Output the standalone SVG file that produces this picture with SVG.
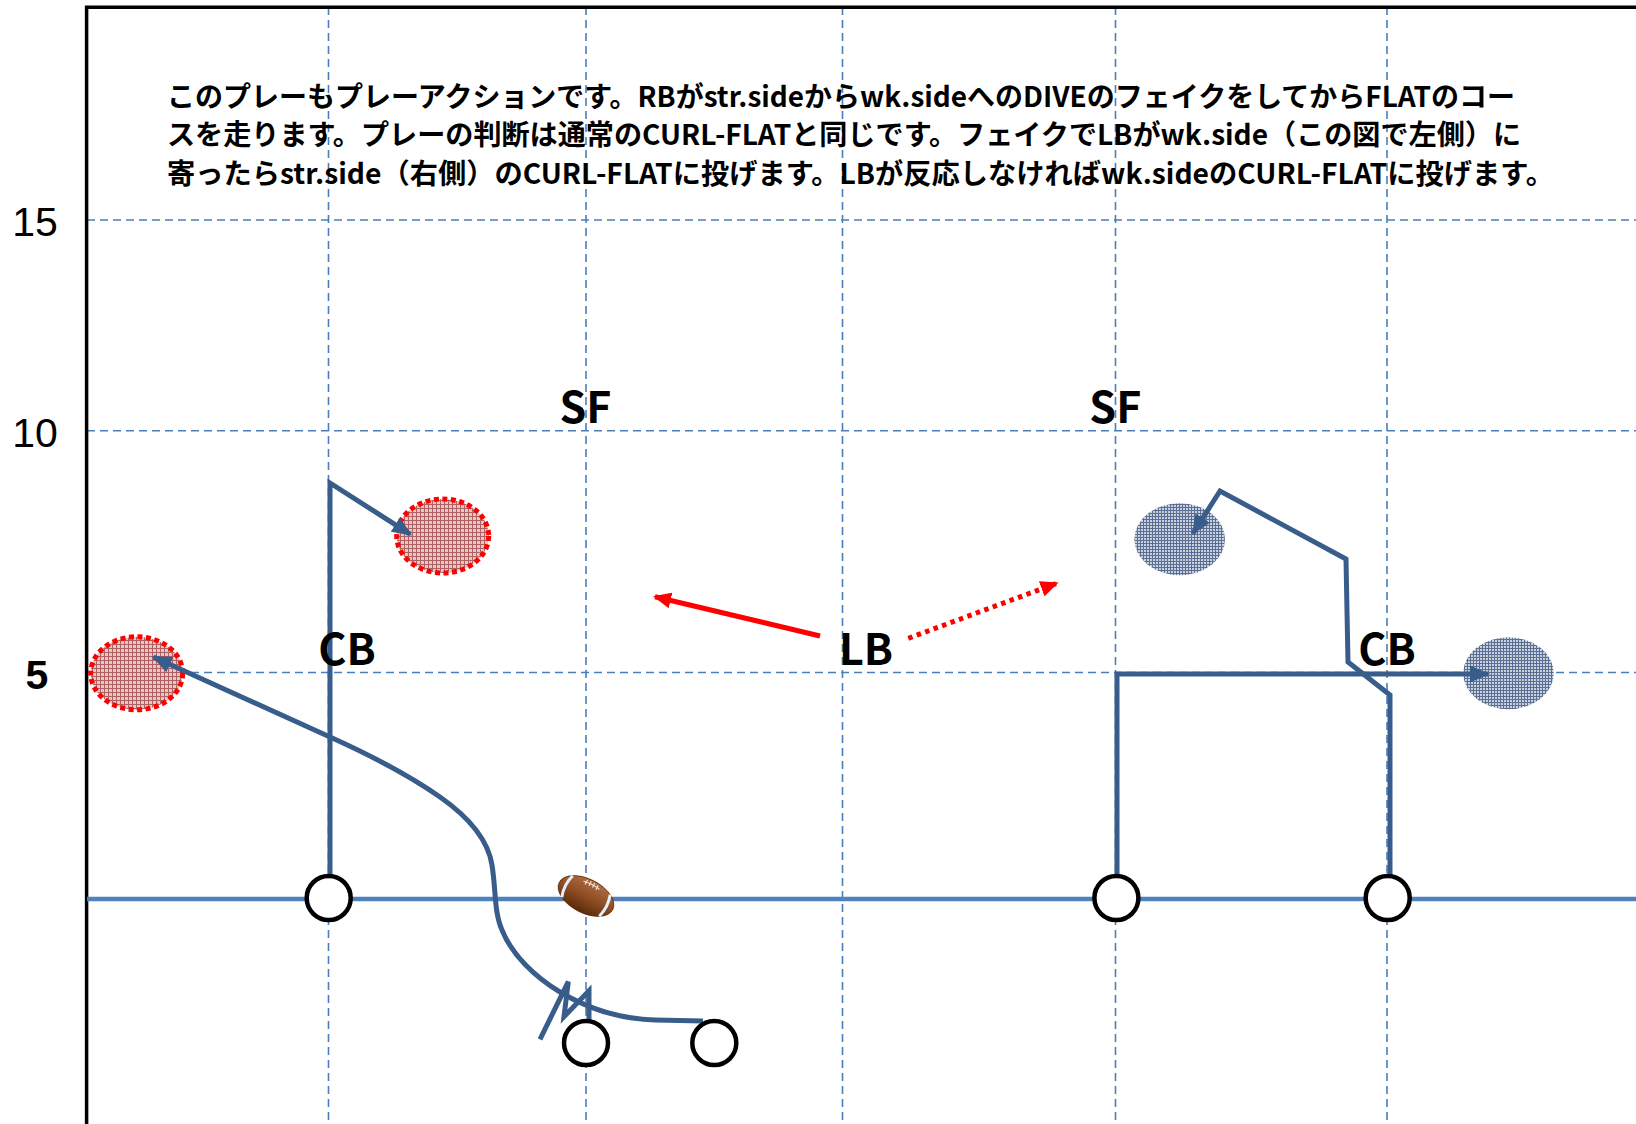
<svg xmlns="http://www.w3.org/2000/svg" width="1636" height="1124" viewBox="0 0 1636 1124">
<style>
.grid{stroke:#4a7ebb;stroke-width:1.6;stroke-dasharray:8 5;fill:none}
.frame{stroke:#000;stroke-width:3.5;fill:none}
.los{stroke:#4f81bd;stroke-width:4.5;fill:none}
.route{stroke:#385d8a;stroke-width:5;fill:none;stroke-linejoin:miter}
.player{fill:#fff;stroke:#000;stroke-width:4.5}
.lbl{font-family:"Noto Sans CJK JP","Liberation Sans",sans-serif;font-weight:bold;font-size:43px;fill:#000;text-anchor:middle}
.yard{font-family:"Liberation Sans",Arial,sans-serif;font-size:41px;fill:#000;text-anchor:middle}
.para{font-family:"Noto Sans CJK JP","Liberation Sans",sans-serif;font-weight:bold;font-size:28px;fill:#000}
.redzone{fill:url(#redHatch);stroke:#ff0000;stroke-width:5;stroke-dasharray:5 3.5}
.bluezone{fill:url(#blueHatch);stroke:none}
.redarr{stroke:#ff0000;stroke-width:5;fill:none}
</style>
<defs>
<pattern id="redHatch" width="4" height="4" patternUnits="userSpaceOnUse">
<rect width="4" height="4" fill="#e6c6c6"/>
<path d="M0 0.5H4M0.5 0V4" stroke="#b06262" stroke-width="1"/>
</pattern>
<pattern id="blueHatch" width="3" height="3" patternUnits="userSpaceOnUse">
<rect width="3" height="3" fill="#c9d0de"/>
<path d="M0 0.5H3M0.5 0V3" stroke="#5b6f95" stroke-width="1"/>
</pattern>
<marker id="arrBlue" viewBox="0 0 20 17" refX="18" refY="8.5" markerWidth="20" markerHeight="17" markerUnits="userSpaceOnUse" orient="auto">
<path d="M0,0 L20,8.5 L0,17 z" fill="#385d8a"/>
</marker>
<marker id="arrRed" viewBox="0 0 18 16" refX="16" refY="8" markerWidth="18" markerHeight="16" markerUnits="userSpaceOnUse" orient="auto">
<path d="M0,0 L18,8 L0,16 z" fill="#ff0000"/>
</marker>
<linearGradient id="ballGrad" x1="0" y1="0" x2="0" y2="1">
<stop offset="0" stop-color="#b06c42"/>
<stop offset="0.55" stop-color="#8a4a22"/>
<stop offset="1" stop-color="#5a2a08"/>
</linearGradient>
</defs>

<g id="grid">
<path class="grid" d="M328.5,7V1124M586,7V1124M842.5,7V1124M1115.5,7V1124M1387,7V1124"/>
<path class="grid" d="M87,220H1636M87,430.7H1636M87,672.5H1636"/>
</g>

<g id="frame">
<path class="frame" d="M86.6,1124V7.3H1636"/>
</g>

<g id="yard-labels">
<text class="yard" x="35" y="236">15</text>
<text class="yard" x="35" y="446.7">10</text>
<text class="yard" x="37" y="689" font-weight="bold" font-size="44">5</text>
</g>

<g id="description">
<text class="para" x="167" y="106.6" textLength="1348" lengthAdjust="spacingAndGlyphs">このプレーもプレーアクションです。RBがstr.sideからwk.sideへのDIVEのフェイクをしてからFLATのコー</text>
<text class="para" x="167" y="145" textLength="1354" lengthAdjust="spacingAndGlyphs">スを走ります。プレーの判断は通常のCURL-FLATと同じです。フェイクでLBがwk.side（この図で左側）に</text>
<text class="para" x="167" y="183.6" textLength="1387" lengthAdjust="spacingAndGlyphs">寄ったらstr.side（右側）のCURL-FLATに投げます。LBが反応しなければwk.sideのCURL-FLATに投げます。</text>
</g>

<g id="line-of-scrimmage">
<path class="los" d="M87,899H1636"/>
</g>

<g id="zone-left-flat"><ellipse class="redzone" cx="136.7" cy="673.3" rx="46" ry="36.5"/></g>
<g id="zone-left-curl"><ellipse class="redzone" cx="442.7" cy="536" rx="46" ry="37"/></g>
<g id="zone-right-curl"><ellipse class="bluezone" cx="1179.7" cy="539.3" rx="45.3" ry="36"/></g>
<g id="zone-right-flat"><ellipse class="bluezone" cx="1508.5" cy="673.3" rx="45.3" ry="36"/></g>

<g id="connectors">
<path class="route" d="M330,876V483L410.4,534.3" marker-end="url(#arrBlue)"/>
<path class="route" d="M703,1021L655,1020C620,1019 590,1010 560,992C535,977 512,955 502,930C494,912 496,890 492,865C488,840 470,818 440,797C410,776 370,755 330,737L153.5,657" marker-end="url(#arrBlue)"/>
<path class="route" d="M540,1039.3L568.3,981.7L564,1016.7L589,990.7L589,1025"/>
<path class="route" d="M1117,876V674H1488" marker-end="url(#arrBlue)"/>
<path class="route" d="M1390,876V695L1348,662L1346,559L1220,491L1193,533.3" marker-end="url(#arrBlue)"/>
<path class="redarr" d="M820,636L655,596.7" marker-end="url(#arrRed)"/>
<path class="redarr" d="M908.3,638.3L1056.7,583.3" stroke-dasharray="4.5 4.5" marker-end="url(#arrRed)"/>
</g>

<g id="football" transform="translate(586,896) rotate(27)">
<ellipse rx="30" ry="17" fill="url(#ballGrad)" stroke="#5a2a08" stroke-width="0.8"/>
<path d="M-21,-12 Q-25,0 -21,12" stroke="#e6eef7" stroke-width="3" fill="none"/>
<path d="M21,-12 Q25,0 21,12" stroke="#e6eef7" stroke-width="3" fill="none"/>
<path d="M-9,-12 Q0,-14 9,-12" stroke="#f2e6d8" stroke-width="1.2" fill="none"/>
<path d="M-6,-15V-10M-2,-15.5V-10.5M2,-15.5V-10.5M6,-15V-10" stroke="#f2e6d8" stroke-width="1.2"/>
</g>

<g id="player-wr-left"><circle class="player" cx="328.7" cy="898" r="22"/></g>
<g id="player-qb"><circle class="player" cx="586" cy="1043" r="22"/></g>
<g id="player-rb"><circle class="player" cx="714.3" cy="1043" r="22"/></g>
<g id="player-wr-right-in"><circle class="player" cx="1116.4" cy="898" r="22"/></g>
<g id="player-wr-right-out"><circle class="player" cx="1387.7" cy="898" r="22"/></g>

<g id="label-sf-left"><text class="lbl" x="585.5" y="423.3">SF</text></g>
<g id="label-sf-right"><text class="lbl" x="1115.3" y="423.3">SF</text></g>
<g id="label-cb-left"><text class="lbl" x="347" y="665">CB</text></g>
<g id="label-lb"><text class="lbl" x="866" y="664.5">LB</text></g>
<g id="label-cb-right"><text class="lbl" x="1387" y="665">CB</text></g>
</svg>
